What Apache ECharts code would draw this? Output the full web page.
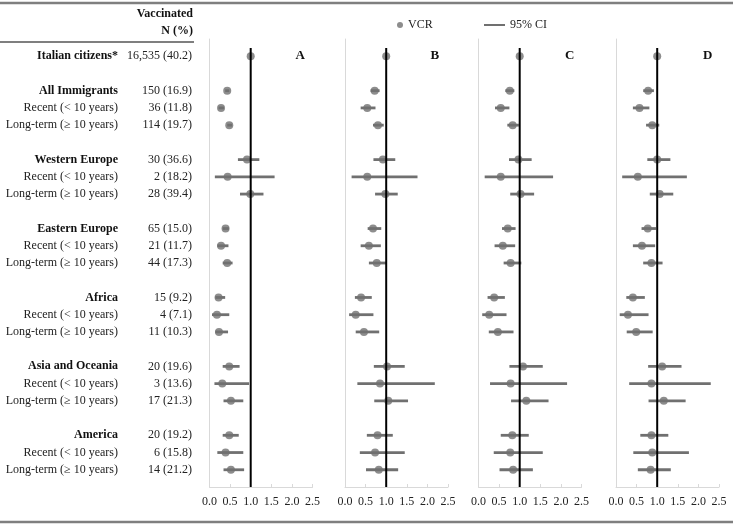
<!DOCTYPE html>
<html>
<head>
<meta charset="utf-8">
<script src="https://cdn.jsdelivr.net/npm/echarts@6/dist/echarts.min.js"></script>
<style>
  html, body { margin: 0; padding: 0; background: #fff; }
  #chart { width: 733px; height: 525px; }
</style>
</head>
<body>
<div id="chart"></div>
<script>
// row labels, blank strings are the gaps between groups
const rowLabels = [
  'Italian citizens*', '',
  'All Immigrants', 'Recent (< 10 years)', 'Long-term (\u2265 10 years)', '',
  'Western Europe', 'Recent (< 10 years)', 'Long-term (\u2265 10 years)', '',
  'Eastern Europe', 'Recent (< 10 years)', 'Long-term (\u2265 10 years)', '',
  'Africa', 'Recent (< 10 years)', 'Long-term (\u2265 10 years)', '',
  'Asia and Oceania', 'Recent (< 10 years)', 'Long-term (\u2265 10 years)', '',
  'America', 'Recent (< 10 years)', 'Long-term (\u2265 10 years)'
];
const boldRows = ['Italian citizens*', 'All Immigrants', 'Western Europe', 'Eastern Europe',
  'Africa', 'Asia and Oceania', 'America'];
const vaccinated = [
  '16,535 (40.2)', '',
  '150 (16.9)', '36 (11.8)', '114 (19.7)', '',
  '30 (36.6)', '2 (18.2)', '28 (39.4)', '',
  '65 (15.0)', '21 (11.7)', '44 (17.3)', '',
  '15 (9.2)', '4 (7.1)', '11 (10.3)', '',
  '20 (19.6)', '3 (13.6)', '17 (21.3)', '',
  '20 (19.2)', '6 (15.8)', '14 (21.2)'
];

const panelNames = ['A', 'B', 'C', 'D'];

// VCR point estimates, one array per panel (null = gap row)
const vcrA = [1.00, null, 0.43, 0.28, 0.48, null, 0.91, 0.44, 0.99, null, 0.39, 0.28, 0.43, null, 0.22, 0.18, 0.23, null, 0.48, 0.31, 0.52, null, 0.48, 0.39, 0.52];
const loA  = [0.98, null, 0.38, 0.22, 0.43, null, 0.69, 0.13, 0.74, null, 0.32, 0.19, 0.32, null, 0.14, 0.06, 0.14, null, 0.32, 0.12, 0.34, null, 0.32, 0.19, 0.34];
const hiA  = [1.02, null, 0.48, 0.35, 0.55, null, 1.21, 1.58, 1.31, null, 0.47, 0.46, 0.56, null, 0.38, 0.48, 0.45, null, 0.73, 0.96, 0.82, null, 0.71, 0.82, 0.84];

const vcrB = [1.00, null, 0.72, 0.54, 0.80, null, 0.92, 0.54, 0.98, null, 0.68, 0.58, 0.77, null, 0.39, 0.26, 0.46, null, 1.02, 0.85, 1.05, null, 0.79, 0.73, 0.82];
const loB  = [0.98, null, 0.62, 0.38, 0.68, null, 0.69, 0.16, 0.73, null, 0.55, 0.38, 0.58, null, 0.24, 0.10, 0.26, null, 0.70, 0.30, 0.71, null, 0.53, 0.36, 0.51];
const hiB  = [1.02, null, 0.84, 0.74, 0.94, null, 1.22, 1.76, 1.28, null, 0.88, 0.87, 1.00, null, 0.65, 0.69, 0.83, null, 1.45, 2.18, 1.53, null, 1.16, 1.45, 1.29];

const vcrC = [1.00, null, 0.76, 0.54, 0.83, null, 0.97, 0.54, 1.02, null, 0.71, 0.59, 0.78, null, 0.38, 0.26, 0.47, null, 1.08, 0.78, 1.16, null, 0.82, 0.77, 0.84];
const loC  = [0.98, null, 0.65, 0.40, 0.70, null, 0.74, 0.15, 0.77, null, 0.57, 0.39, 0.61, null, 0.22, 0.09, 0.25, null, 0.75, 0.28, 0.79, null, 0.54, 0.37, 0.51];
const hiC  = [1.02, null, 0.87, 0.75, 0.98, null, 1.29, 1.81, 1.35, null, 0.90, 0.89, 1.04, null, 0.64, 0.68, 0.85, null, 1.56, 2.15, 1.70, null, 1.22, 1.56, 1.32];

const vcrD = [1.00, null, 0.78, 0.57, 0.88, null, 1.00, 0.53, 1.06, null, 0.77, 0.63, 0.86, null, 0.41, 0.29, 0.49, null, 1.12, 0.86, 1.16, null, 0.86, 0.88, 0.84];
const loD  = [0.98, null, 0.66, 0.41, 0.73, null, 0.76, 0.15, 0.82, null, 0.62, 0.41, 0.66, null, 0.25, 0.09, 0.26, null, 0.78, 0.32, 0.79, null, 0.59, 0.42, 0.53];
const hiD  = [1.02, null, 0.92, 0.81, 1.05, null, 1.32, 1.72, 1.39, null, 0.97, 0.95, 1.13, null, 0.70, 0.79, 0.89, null, 1.59, 2.30, 1.69, null, 1.27, 1.77, 1.33];

const xTicks = [0, 0.5, 1.0, 1.5, 2.0, 2.5];

const panels = [
  { vcr: vcrA, lo: loA, hi: hiA },
  { vcr: vcrB, lo: loB, hi: hiB },
  { vcr: vcrC, lo: loC, hi: hiC },
  { vcr: vcrD, lo: loD, hi: hiD }
];

const serif = 'Liberation Serif';
const gridLefts = [209.5, 345, 478.5, 616];
const axisGray = '#d9d9d9';
const markGray = '#707070';

// category slots: one empty slot above and below the rows
const slots = ['top'].concat(rowLabels.map((r, i) => 'r' + i), ['bottom']);

const grids = gridLefts.map(l => ({ left: l, top: 39, width: 103, height: 448 }));

const xAxes = gridLefts.map((l, i) => ({
  type: 'value', gridIndex: i, min: 0, max: xTicks[xTicks.length - 1], interval: 0.5,
  axisLine: { onZero: false, lineStyle: { color: axisGray, width: 1 } },
  axisTick: { inside: true, length: 3, lineStyle: { color: axisGray } },
  splitLine: { show: false },
  axisLabel: { margin: 9, fontFamily: serif, fontSize: 12, color: '#222',
    formatter: v => v.toFixed(1) }
}));

const yAxes = gridLefts.map((l, i) => ({
  type: 'value', gridIndex: i, min: 0, max: 26, inverse: true,
  axisLine: { show: true, onZero: false, lineStyle: { color: axisGray, width: 1 } },
  axisTick: { show: false }, axisLabel: { show: false }, splitLine: { show: false }
}));

// label columns beside panel A
yAxes.push({
  type: 'category', gridIndex: 0, position: 'left', offset: 74, inverse: true,
  boundaryGap: false, data: slots,
  axisLine: { show: false }, axisTick: { show: false },
  axisLabel: {
    interval: 0, margin: 17.5, fontFamily: serif, fontSize: 12, color: '#222',
    formatter: (v, idx) => {
      const t = rowLabels[idx - 1] || '';
      return boldRows.indexOf(t) >= 0 ? '{b|' + t + '}' : t;
    },
    rich: { b: { fontFamily: serif, fontSize: 12, fontWeight: 'bold', color: '#111' } }
  }
});
yAxes.push({
  type: 'category', gridIndex: 0, position: 'left', offset: 0, inverse: true,
  boundaryGap: false, data: slots,
  axisLine: { show: false }, axisTick: { show: false },
  axisLabel: {
    interval: 0, margin: 17.5, fontFamily: serif, fontSize: 12, color: '#222',
    formatter: (v, idx) => vaccinated[idx - 1] || ''
  }
});

const series = [];
panels.forEach((p, i) => {
  const ciData = [];
  const ptData = [];
  p.vcr.forEach((v, r) => {
    if (v == null) return;
    ciData.push([r + 1, p.lo[r], p.hi[r]]);
    ptData.push([v, r + 1]);
  });
  series.push({
    name: '95% CI', type: 'custom', xAxisIndex: i, yAxisIndex: i, z: 2,
    itemStyle: { color: markGray },
    encode: { x: [1, 2], y: 0 },
    data: ciData,
    renderItem: (params, api) => {
      const a = api.coord([api.value(1), api.value(0)]);
      const b = api.coord([api.value(2), api.value(0)]);
      return {
        type: 'line',
        shape: { x1: a[0], y1: a[1], x2: b[0], y2: b[1] },
        style: { stroke: markGray, lineWidth: 2.8 }
      };
    }
  });
  series.push({
    name: 'VCR', type: 'scatter', xAxisIndex: i, yAxisIndex: i, z: 3,
    symbol: 'circle', symbolSize: 8,
    itemStyle: { color: markGray },
    data: ptData
  });
  // reference line at VCR = 1
  series.push({
    name: 'ref', type: 'line', xAxisIndex: i, yAxisIndex: i, z: 5,
    symbol: 'none', silent: true,
    lineStyle: { color: '#000', width: 2 },
    data: [[1, 0.52], [1, 26]]
  });
});

const titles = panelNames.map((n, i) => ({
  text: n, left: [295.5, 430.5, 565, 703][i], top: 49, padding: 0,
  textStyle: { fontFamily: serif, fontSize: 13, fontWeight: 'bold', color: '#111' }
}));

const chart = echarts.init(document.getElementById('chart'), null, { renderer: 'canvas' });
chart.setOption({
  animation: false,
  backgroundColor: '#fff',
  title: titles,
  legend: [
    {
      data: [{ name: 'VCR', icon: 'circle' }], left: 392, top: 14,
      itemWidth: 6, itemHeight: 6, selectedMode: false,
      textStyle: { fontFamily: serif, fontSize: 12, color: '#222' }
    },
    {
      data: [{ name: '95% CI', icon: 'rect' }], left: 479, top: 14,
      itemWidth: 21, itemHeight: 2, selectedMode: false,
      textStyle: { fontFamily: serif, fontSize: 12, color: '#222' }
    }
  ],
  grid: grids,
  xAxis: xAxes,
  yAxis: yAxes,
  series: series,
  graphic: [
    { type: 'line', shape: { x1: 0, y1: 3, x2: 733, y2: 3 }, style: { stroke: '#7f7f7f', lineWidth: 2.5 } },
    { type: 'line', shape: { x1: 0, y1: 42, x2: 194, y2: 42 }, style: { stroke: '#7f7f7f', lineWidth: 2 } },
    { type: 'line', shape: { x1: 0, y1: 522, x2: 733, y2: 522 }, style: { stroke: '#7f7f7f', lineWidth: 2.5 } },
    { type: 'text', x: 193, y: 14, style: { text: 'Vaccinated', align: 'right', verticalAlign: 'middle',
      font: 'bold 12px "Liberation Serif"', fill: '#111' } },
    { type: 'text', x: 193, y: 31, style: { text: 'N (%)', align: 'right', verticalAlign: 'middle',
      font: 'bold 12px "Liberation Serif"', fill: '#111' } }
  ]
});
</script>
</body>
</html>
